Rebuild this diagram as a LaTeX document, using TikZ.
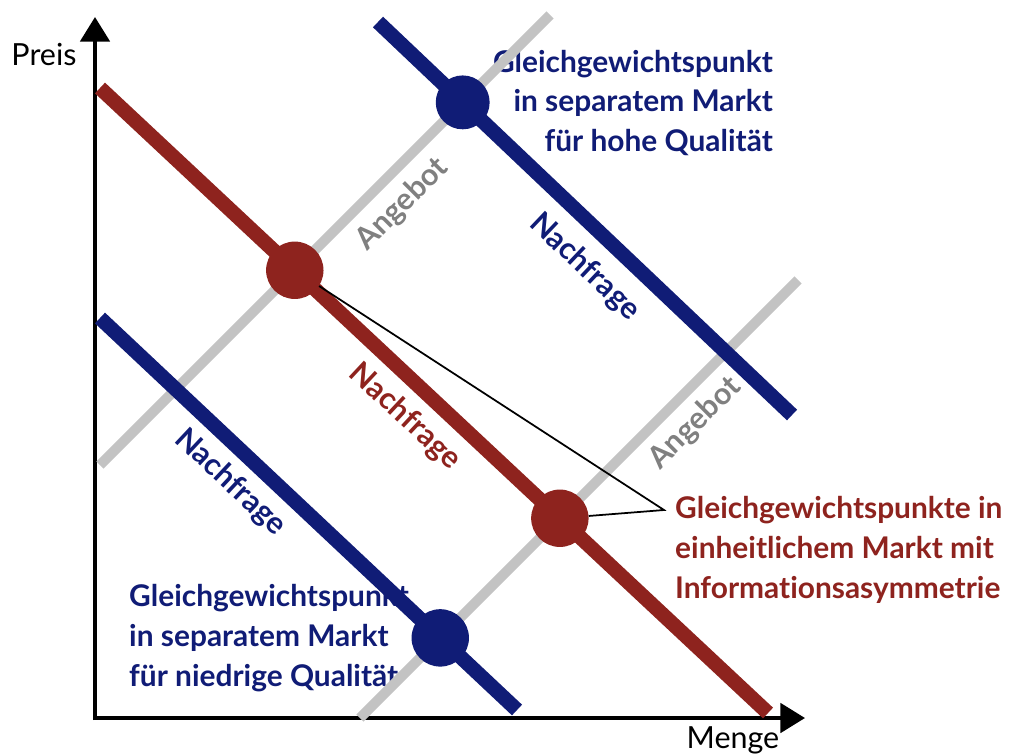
\documentclass[tikz,border=0pt]{standalone}
\usepackage{fontspec}
\setmainfont{Lato}[Ligatures=NoCommon]
\usepackage{tikz}
\usetikzlibrary{arrows.meta}
\definecolor{nachrot}{RGB}{142,35,30}
\definecolor{nachblau}{RGB}{16,28,118}
\definecolor{angrau}{RGB}{195,195,195}
\definecolor{angtext}{RGB}{128,128,128}

\begin{document}
\begin{tikzpicture}[x=0.03cm,y=-0.03cm]
\tikzstyle{every node}+=[inner sep=0pt]
\tikzstyle{achse}=[black, line width=3.4pt, -{Triangle[length=21pt,width=25pt]}]
\tikzstyle{angebot}=[angrau, line width=8.5pt]
\tikzstyle{kurve}=[line width=12.5pt]
\tikzstyle{punkt}=[circle, minimum size=49pt]
\tikzstyle{beschr}=[font=\fontsize{25.5}{34}\selectfont\bfseries]
\tikzstyle{kurvtext}=[font=\fontsize{26}{30}\selectfont\bfseries, sloped]
\useasboundingbox (0,0) rectangle (1020,754);
\coordinate (ursprung) at (95,720);
\coordinate (yende) at (95,17);
\coordinate (xende) at (805,718);
\coordinate (rot0) at (100,88);
\coordinate (rot1) at (768,713);
\coordinate (hoch0) at (378,22);
\coordinate (hoch1) at (792,415);
\coordinate (tief0) at (100,318);
\coordinate (tief1) at (517,710);
\coordinate (ang0) at (100,465);
\coordinate (ang1) at (550,15);
\coordinate (bng0) at (360,718);
\coordinate (bng1) at (798,280);
\coordinate (spitze) at (664,510);
\node[beschr, nachblau, align=right, anchor=east] (texthoch) at (773,103) {Gleichgewichtspunkt\\in separatem Markt\\für hohe Qualität};
\node[beschr, nachrot, align=left, anchor=west] (textrot) at (675,550) {Gleichgewichtspunkte in\\einheitlichem Markt mit\\Informationsasymmetrie};
\node[beschr, nachblau, align=left, anchor=west] (texttief) at (129,638) {Gleichgewichtspunkt\\in separatem Markt\\für niedrige Qualität};
\node[font=\fontsize{26}{30}\selectfont] (preis) at (44,55) {Preis};
\node[font=\fontsize{26}{30}\selectfont] (menge) at (733,740) {Menge};
\draw[achse] (ursprung) -- (yende);
\draw[achse] (93,718) -- (xende);
\draw[angebot] (ang0) -- (ang1) node[kurvtext, angtext, pos=0.626, below=9pt] {Angebot};
\draw[angebot] (bng0) -- (bng1) node[kurvtext, angtext, pos=0.719, below=8pt] {Angebot};
\draw[kurve, nachrot] (rot0) -- (rot1) node[kurvtext, pos=0.489, below=9pt] {Nachfrage};
\draw[kurve, nachblau] (hoch0) -- (hoch1) node[kurvtext, pos=0.558, below=12pt] {Nachfrage};
\draw[kurve, nachblau] (tief0) -- (tief1) node[kurvtext, pos=0.363, below=8pt] {Nachfrage};
\node[punkt, fill=nachblau, minimum size=46pt] (hochpunkt) at (intersection of ang0--ang1 and hoch0--hoch1) {};
\node[punkt, fill=nachrot] (rotpunkt1) at (intersection of ang0--ang1 and rot0--rot1) {};
\node[punkt, fill=nachrot] (rotpunkt2) at (intersection of bng0--bng1 and rot0--rot1) {};
\node[punkt, fill=nachblau] (tiefpunkt) at (intersection of bng0--bng1 and tief0--tief1) {};
\draw[black, line width=1.5pt] (rotpunkt1) -- (spitze) -- (rotpunkt2);
\end{tikzpicture}
\end{document}
